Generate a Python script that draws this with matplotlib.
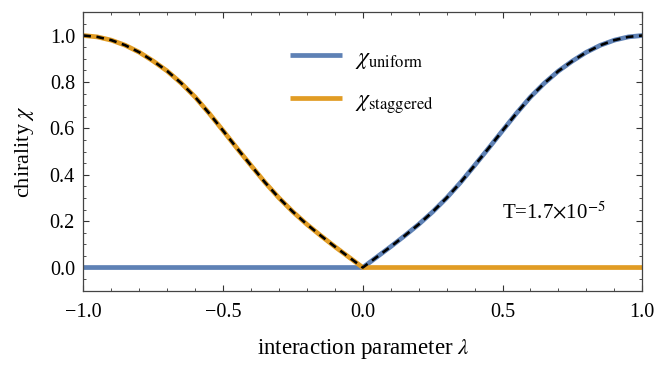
import numpy as np
import matplotlib
matplotlib.use('Agg')
import matplotlib.pyplot as plt

# values, step 0.05 in lambda
lam = [-1.0, -0.95, -0.9, -0.85, -0.8, -0.75, -0.7, -0.65, -0.6, -0.55, -0.5,
       -0.45, -0.4, -0.35, -0.3, -0.25, -0.2, -0.15, -0.1, -0.05, 0.0,
       0.05, 0.1, 0.15, 0.2, 0.25, 0.3, 0.35, 0.4, 0.45, 0.5,
       0.55, 0.6, 0.65, 0.7, 0.75, 0.8, 0.85, 0.9, 0.95, 1.0]
chi_uniform = [0, 0, 0, 0, 0, 0, 0, 0, 0, 0, 0,
               0, 0, 0, 0, 0, 0, 0, 0, 0, 0,
               0.045, 0.09, 0.137, 0.186, 0.24, 0.30, 0.367, 0.44, 0.514, 0.59,
               0.665, 0.735, 0.795, 0.847, 0.89, 0.928, 0.958, 0.98, 0.994, 1.0]
chi_staggered = [1.0, 0.994, 0.98, 0.958, 0.928, 0.89, 0.847, 0.795, 0.735, 0.665, 0.59,
                 0.514, 0.44, 0.367, 0.30, 0.24, 0.186, 0.137, 0.09, 0.045, 0,
                 0, 0, 0, 0, 0, 0, 0, 0, 0, 0,
                 0, 0, 0, 0, 0, 0, 0, 0, 0, 0]
chi_total = np.array(chi_uniform) + np.array(chi_staggered)

plt.rcParams['font.family'] = ['Liberation Serif', 'DejaVu Serif']
plt.rcParams['mathtext.fontset'] = 'stix'
plt.rcParams['lines.scale_dashes'] = False

fig = plt.figure(figsize=(6.57, 3.73), dpi=100)
ax = fig.add_axes([0.1268, 0.2206, 0.8508, 0.7464])

ax.plot(lam, chi_uniform, color='#5E81B5', lw=3.4, label=r'$\chi_{\mathrm{uniform}}$', solid_capstyle='butt')
ax.plot(lam, chi_staggered, color='#E19C24', lw=3.4, label=r'$\chi_{\mathrm{staggered}}$', solid_capstyle='butt')
ax.plot(lam, chi_total, color='black', lw=1.9, dashes=(5.5, 4))

ax.set_xlim(-1, 1)
ax.set_ylim(-0.1, 1.1)
ax.set_xticks([-1.0, -0.5, 0.0, 0.5, 1.0])
ax.set_xticklabels(['\u22121.0', '\u22120.5', '0.0', '0.5', '1.0'])
ax.set_xticks(np.arange(-1, 1.01, 0.1), minor=True)
ax.set_yticks([0.0, 0.2, 0.4, 0.6, 0.8, 1.0])
ax.set_yticks(np.arange(-0.1, 1.101, 0.05), minor=True)
ax.tick_params(which='both', direction='in', top=True, right=True, labelsize=14.5, colors='#333333', labelcolor='black')
ax.tick_params(which='major', length=4, width=0.8)
ax.tick_params(which='minor', length=2.2, width=0.6)
ax.tick_params(axis='x', which='both', pad=9)
ax.tick_params(axis='y', which='both', pad=6)
for s in ax.spines.values():
    s.set_color('#444444')
    s.set_linewidth(0.9)

ax.set_xlabel(r'interaction parameter $\lambda$', fontsize=16.5, labelpad=11)
ax.set_ylabel(r'chirality $\chi$', fontsize=16, labelpad=10)

ax.text(0.749, 0.261, r'T=1.7$\times$10$^{-5}$', transform=ax.transAxes, fontsize=15, va='baseline')

ax.legend(loc='upper left', bbox_to_anchor=(0.37, 0.875), frameon=False, fontsize=17,
          handlelength=2.2, handletextpad=0.55, labelspacing=0.83, borderpad=0, borderaxespad=0)

fig.savefig('out.png', dpi=100)
